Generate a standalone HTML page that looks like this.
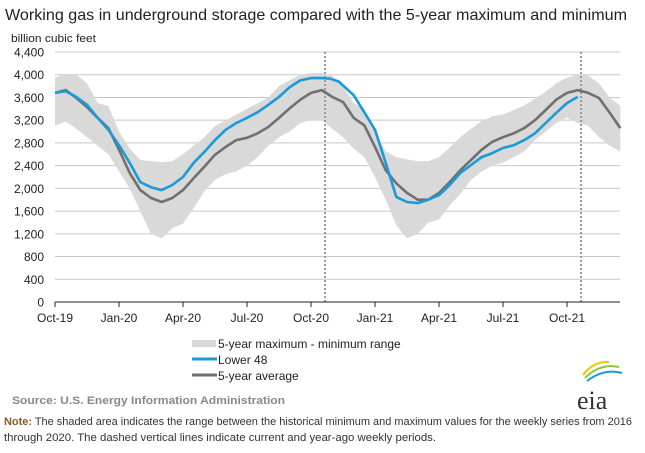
<!DOCTYPE html>
<html><head><meta charset="utf-8"><style>
body{margin:0;background:#fff;width:645px;height:453px;overflow:hidden;font-family:"Liberation Sans",sans-serif}
</style></head><body>
<svg id="c" width="645" height="453" style="position:absolute;left:0;top:0">
<text x="5" y="20" font-size="16" fill="#222" textLength="622" lengthAdjust="spacingAndGlyphs">Working gas in underground  storage compared with the 5-year maximum and minimum</text>
<text x="11" y="42" font-size="11" fill="#222" textLength="85" lengthAdjust="spacingAndGlyphs">billion cubic feet</text>
<g id="grid"></g><g id="plot"></g><g id="axes"></g>
<g>
<rect x="192" y="340" width="24" height="7" fill="#d9d9d9"/>
<text x="218" y="348" font-size="12" fill="#222">5-year maximum - minimum range</text>
<line x1="192" y1="359" x2="217" y2="359" stroke="#1a9ad9" stroke-width="3"/>
<text x="218" y="364" font-size="12" fill="#222">Lower 48</text>
<line x1="192" y1="375" x2="217" y2="375" stroke="#707070" stroke-width="3"/>
<text x="218" y="380" font-size="12" fill="#222">5-year average</text>
</g>
<text x="12" y="404" font-size="11" font-weight="bold" fill="#888" textLength="273" lengthAdjust="spacingAndGlyphs">Source:  U.S. Energy Information Administration</text>
<text x="4" y="425" font-size="11" fill="#333" textLength="628" lengthAdjust="spacingAndGlyphs"><tspan font-weight="bold" fill="#8a5a2a">Note:</tspan> The shaded area indicates the range between the historical minimum and maximum values for the weekly series from 2016</text>
<text x="4" y="441" font-size="11" fill="#333" textLength="432" lengthAdjust="spacingAndGlyphs">through 2020. The dashed vertical lines indicate current and year-ago weekly periods.</text>
<g>
<path d="M585 378 Q600 363 619 367" stroke="#8dc63f" stroke-width="2" fill="none"/>
<path d="M587 381 Q604 368 622 373" stroke="#1a9ad9" stroke-width="2" fill="none"/>
<path d="M583 375 Q594 361 609 362" stroke="#f2c400" stroke-width="2" fill="none"/>
<text x="577" y="409" font-size="26" font-family="Liberation Serif,serif" fill="#333">eia</text>
</g>
</svg>
<script>
const months=[0,0.5,1,1.5,2,2.5,3,3.5,4,4.5,5,5.5,6,6.5,7,7.5,8,8.5,9,9.5,10,10.5,11,11.5,12,12.5,13,13.5,14,14.5,15,15.5,16,16.5,17,17.5,18,18.5,19,19.5,20,20.5,21,21.5,22,22.5,23,23.5,24,24.5,25,25.5,26,26.5];
const maxVals=[3950,4020,4000,3850,3500,3450,3000,2700,2500,2480,2460,2480,2600,2750,2900,3100,3200,3300,3400,3500,3600,3800,3900,4000,4030,4030,3980,3800,3500,3400,3000,2650,2550,2510,2480,2480,2550,2720,2900,3050,3180,3270,3300,3380,3460,3580,3700,3850,3950,4000,3980,3850,3600,3450];
const minVals=[3100,3180,3050,2900,2750,2600,2300,2000,1600,1200,1120,1300,1380,1650,1950,2150,2250,2300,2400,2550,2750,2900,3000,3150,3200,3200,3050,2900,2700,2550,2200,1800,1350,1120,1200,1400,1450,1700,1900,2150,2300,2400,2450,2550,2650,2850,3000,3150,3250,3150,3100,2900,2750,2650];
const avgVals=[3680,3730,3590,3430,3240,3060,2680,2270,1970,1830,1760,1830,1970,2180,2380,2590,2730,2850,2890,2970,3080,3240,3410,3560,3680,3730,3610,3520,3240,3110,2730,2320,2090,1920,1800,1800,1920,2110,2320,2500,2680,2820,2900,2970,3060,3200,3380,3560,3680,3730,3680,3590,3330,3060];
const l48Months=[0,0.5,1,1.5,2,2.5,3,3.5,4,4.5,5,5.5,6,6.5,7,7.5,8,8.5,9,9.5,10,10.5,11,11.5,12,12.5,12.9,13.3,14,14.5,15,15.5,16,16.5,17,17.5,18,18.5,19,19.5,20,20.5,21,21.5,22,22.5,23,23.5,24,24.5];
const l48Vals=[3680,3710,3610,3470,3240,3030,2760,2450,2110,2020,1970,2060,2200,2450,2640,2850,3030,3150,3240,3340,3470,3610,3780,3900,3940,3940,3930,3880,3640,3340,3030,2450,1850,1760,1740,1800,1880,2060,2270,2410,2550,2620,2710,2760,2850,2970,3150,3330,3500,3610];
const yTicks=[0,400,800,1200,1600,2000,2400,2800,3200,3600,4000,4400];
const xLabels=["Oct-19","Jan-20","Apr-20","Jul-20","Oct-20","Jan-21","Apr-21","Jul-21","Oct-21"];
const xLabelMonths=[0,3,6,9,12,15,18,21,24];
const dashedMonths=[12.66,24.66];
const X=m=>55+m*64/3, Y=v=>302-v*250/4400;
const NS="http://www.w3.org/2000/svg";
function mk(p,t,a){const e=document.createElementNS(NS,t);for(const k in a)e.setAttribute(k,a[k]);p.appendChild(e);return e;}
const grid=document.getElementById('grid'),plot=document.getElementById('plot'),axes=document.getElementById('axes');
yTicks.forEach(v=>{
 if(v>0){const l=mk(grid,'line',{x1:55,x2:620,y1:Y(v),y2:Y(v),stroke:'#c8c8c8','stroke-width':1});
 
 }
 const t=mk(axes,'text',{x:44,y:Y(v)+4.5,'font-size':12,'text-anchor':'end',fill:'#222'});t.textContent=v.toLocaleString('en-US');
 
 
});
let d='';months.forEach((m,i)=>d+=(i?'L':'M')+X(m)+' '+Y(maxVals[i]));
for(let i=months.length-1;i>=0;i--)d+='L'+X(months[i])+' '+Y(minVals[i]);
const band=mk(plot,'path',{d:d+'Z',fill:'#d9d9d9'});


dashedMonths.forEach(m=>{const l=mk(plot,'line',{x1:X(m),x2:X(m),y1:52,y2:302,stroke:'#999','stroke-width':2,'stroke-dasharray':'2,2'});
 
 });
function line(ms,vs,c,name){let p='';ms.forEach((m,i)=>p+=(i?'L':'M')+X(m).toFixed(1)+' '+Y(vs[i]).toFixed(1));
 const e=mk(plot,'path',{d:p,fill:'none',stroke:c,'stroke-width':2.6,'stroke-linejoin':'round'});
 
 }
line(months,avgVals,'#707070','average-line');
line(l48Months,l48Vals,'#1a9ad9','lower48-line');
const ax=mk(axes,'line',{x1:55,x2:620,y1:302,y2:302,stroke:'#222','stroke-width':1});


xLabels.forEach((s,i)=>{const x=X(xLabelMonths[i]);
 const tk=mk(axes,'line',{x1:x,x2:x,y1:302,y2:307,stroke:'#222'});
 
 
 const t=mk(axes,'text',{x:x,y:322,'font-size':12,'text-anchor':'middle',fill:'#222'});t.textContent=s;
 
 });
</script>
</body></html>
